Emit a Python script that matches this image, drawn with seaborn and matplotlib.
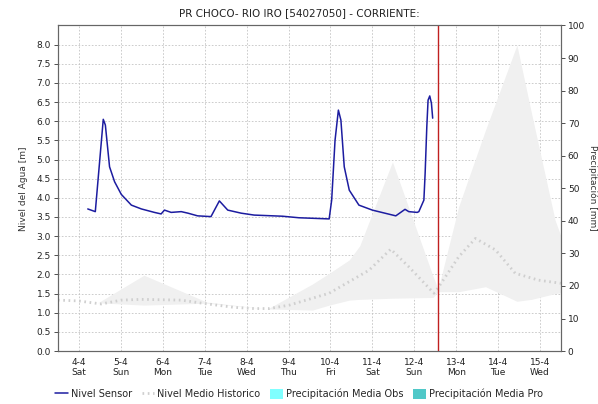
import numpy as np
import pandas as pd
import matplotlib
matplotlib.use("Agg")
import matplotlib.pyplot as plt
import seaborn as sns
from matplotlib.lines import Line2D
from matplotlib.patches import Patch

# days counted from 4-4 00:00
sensor_day = [0.21, 0.39, 0.58, 0.63, 0.73, 0.85, 1.01, 1.25, 1.49, 1.80, 1.96, 2.04, 2.20,
              2.44, 2.60, 2.83, 3.15, 3.35, 3.55, 3.87, 4.18, 4.86, 5.25, 5.97, 6.03, 6.11,
              6.19, 6.25, 6.33, 6.45, 6.68, 7.00, 7.56, 7.78, 7.87, 8.07, 8.11, 8.23, 8.26,
              8.30, 8.33, 8.37, 8.41, 8.44]
sensor_lvl = [3.71, 3.64, 6.05, 5.90, 4.81, 4.42, 4.09, 3.81, 3.71, 3.62, 3.58, 3.68, 3.62,
              3.64, 3.60, 3.53, 3.51, 3.92, 3.68, 3.60, 3.55, 3.52, 3.48, 3.45, 3.94, 5.50,
              6.29, 6.03, 4.81, 4.20, 3.81, 3.68, 3.53, 3.70, 3.64, 3.62, 3.64, 3.94, 4.64,
              5.86, 6.55, 6.66, 6.47, 6.08]

hist_day = [-0.5, -0.02, 0.53, 1.01, 1.49, 2.44, 3.00, 3.71, 4.18, 4.54, 5.02, 5.97, 6.92,
            7.44, 7.87, 8.47, 8.55, 9.06, 9.46, 9.94, 10.41, 10.97, 11.5]
hist_lvl = [1.33, 1.31, 1.23, 1.33, 1.35, 1.33, 1.24, 1.14, 1.11, 1.11, 1.20, 1.51, 2.11,
            2.66, 2.20, 1.51, 1.62, 2.46, 2.94, 2.64, 2.03, 1.85, 1.77]

band_day = [-0.5, 0.45, 1.55, 3.05, 4.50, 5.57, 5.97, 6.45, 6.70, 7.48, 8.45, 8.57, 9.06,
            9.70, 10.45, 10.80, 11.36, 11.5]
band_hi = [1.30, 1.26, 1.98, 1.28, 1.10, 1.75, 2.03, 2.38, 2.75, 4.94, 1.95, 1.62, 3.77,
           5.77, 7.99, 6.20, 3.42, 3.00]
band_lo = [1.30, 1.26, 1.20, 1.25, 1.10, 1.07, 1.20, 1.33, 1.35, 1.38, 1.40, 1.55, 1.55,
           1.68, 1.30, 1.35, 1.50, 1.52]

day_labels = ["4-4\nSat", "5-4\nSun", "6-4\nMon", "7-4\nTue", "8-4\nWed", "9-4\nThu",
              "10-4\nFri", "11-4\nSat", "12-4\nSun", "13-4\nMon", "14-4\nTue", "15-4\nWed"]
now_day = 8.57

sensor = pd.DataFrame({"day": sensor_day, "nivel": sensor_lvl})
hist = pd.DataFrame({"day": hist_day, "nivel": hist_lvl})

sns.set_style("white")
plt.rcParams["font.family"] = ["DejaVu Sans"]

fig = plt.figure(figsize=(5.98, 4.04), dpi=100)
ax = fig.add_axes([0.097, 0.131, 0.841, 0.806])

ax.fill_between(band_day, band_lo, band_hi, color="#f0f0f0", lw=0, zorder=1)
sns.lineplot(data=hist, x="day", y="nivel", ax=ax, color="#cfcfcf", lw=2.0,
             linestyle=(0, (0.6, 1.3)), zorder=2)
sns.lineplot(data=sensor, x="day", y="nivel", ax=ax, color="#1c1ca0", lw=1.1, zorder=3)
ax.axvline(now_day, color="#c02020", lw=1, zorder=4)

ax.set_xlim(-0.5, 11.5)
ax.set_ylim(0, 8.5)
ax.set_xticks(range(len(day_labels)))
ax.set_xticklabels(day_labels)
ax.set_yticks(np.arange(0, 8.01, 0.5))
ax.set_yticklabels([f"{v:.1f}" for v in np.arange(0, 8.01, 0.5)])
ax.grid(True, color="#c4c4c4", linestyle=(0, (2, 2)), lw=0.6)
ax.set_axisbelow(True)
ax.tick_params(axis="both", labelsize=6.5, length=3, width=0.6, colors="#333333",
               labelcolor="#222222", pad=2)
ax.set_xlabel("")
ax.set_ylabel("Nivel del Agua [m]", fontsize=6.5, color="#333333", labelpad=6)
for s in ax.spines.values():
    s.set_color("#666666")
    s.set_linewidth(0.8)

ax2 = ax.twinx()
ax2.set_ylim(0, 100)
ax2.set_yticks(range(0, 101, 10))
ax2.tick_params(axis="y", labelsize=6.5, length=3, width=0.6, colors="#333333",
                labelcolor="#222222", pad=2)
ax2.set_ylabel("Precipitación [mm]", fontsize=6.5, color="#333333", rotation=270,
               labelpad=9)
for s in ax2.spines.values():
    s.set_color("#666666")
    s.set_linewidth(0.8)

fig.text(0.5, 0.955, "PR CHOCO- RIO IRO [54027050] - CORRIENTE:", ha="center",
         va="bottom", fontsize=7.5, color="#222222")

handles = [Line2D([0], [0], color="#1c1ca0", lw=1.1),
           Line2D([0], [0], color="#cfcfcf", lw=2, linestyle=(0, (0.6, 1.3))),
           Patch(facecolor="#80ffff", edgecolor="none"),
           Patch(facecolor="#50c8c8", edgecolor="none")]
labels = ["Nivel Sensor", "Nivel Medio Historico", "Precipitación Media Obs",
          "Precipitación Media Pro"]
fig.legend(handles, labels, loc="center", bbox_to_anchor=(0.5, 0.025), ncol=4,
           frameon=False, fontsize=7, handlelength=1.3, handletextpad=0.3,
           columnspacing=1.0, handleheight=1.1)

fig.savefig("out.png", dpi=100)
